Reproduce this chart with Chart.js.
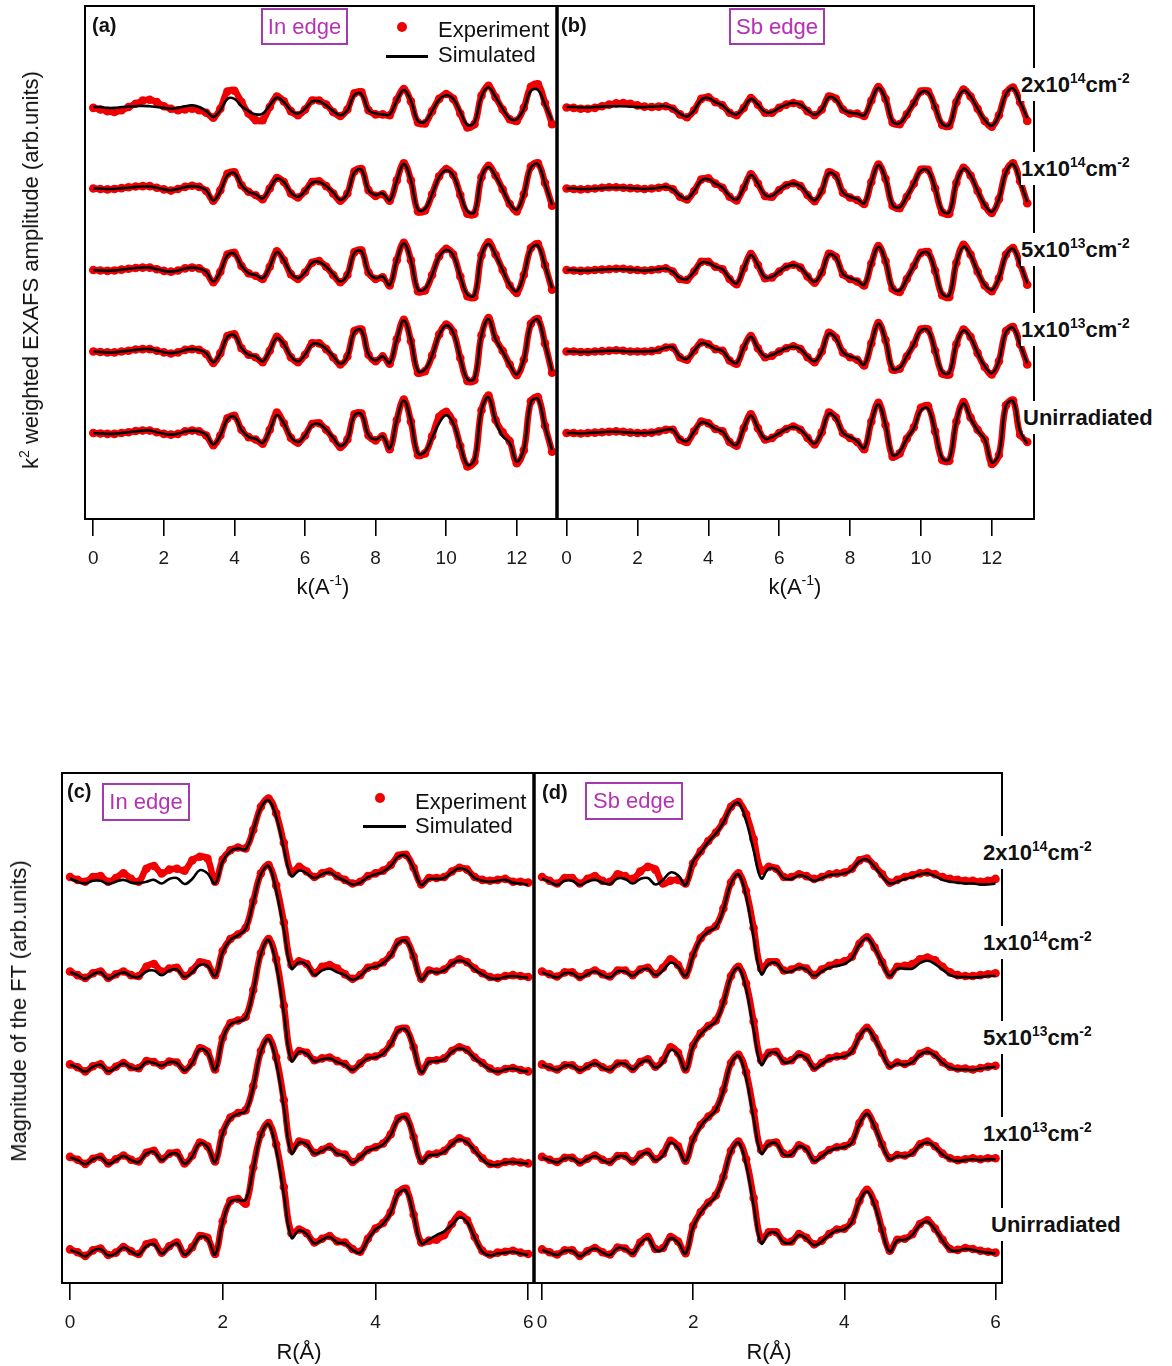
<!DOCTYPE html>
<html>
<head>
<meta charset="utf-8">
<script src="https://cdn.jsdelivr.net/npm/chart.js@4.4.1/dist/chart.umd.min.js"></script>
<style>
  body { margin: 0; background: #fff; width: 1172px; height: 1366px; position: relative; overflow: hidden;
         font-family: "Liberation Sans", Arial, sans-serif; color: #111; }
  canvas { position: absolute; left: 0; top: 0; }
  .t { position: absolute; white-space: nowrap; line-height: 1; }
  .pl { font-weight: bold; font-size: 20px; }
  .edge { position: absolute; box-sizing: border-box; border: 2px solid #a53ab0; color: #b532b5;
          font-size: 22px; display: flex; align-items: center; justify-content: center; background: #fff; }
  .leg { font-size: 22px; }
  .dot { position: absolute; width: 10px; height: 10px; border-radius: 50%; background: #f00000; }
  .ln { position: absolute; height: 3px; background: #000; }
  .smp { position: absolute; white-space: nowrap; font-weight: bold; font-size: 22px; line-height: 1;
         background: #fff; padding: 6px 0 5px 0; }
  .smp .s { font-size: 14px; position: relative; top: -9px; }
  .xt { position: absolute; font-size: 22px; line-height: 1; transform: translateX(-50%); white-space: nowrap; }
  .xt .s { font-size: 14px; position: relative; top: -9px; }
  .yt { position: absolute; font-size: 22px; line-height: 1; white-space: nowrap;
        transform: translate(-50%, -50%) rotate(-90deg); }
  .yt .s { font-size: 14px; position: relative; top: -9px; }
</style>
</head>
<body>
<canvas id="pa" width="1172" height="1366"></canvas>
<canvas id="pb" width="1172" height="1366"></canvas>
<canvas id="pc" width="1172" height="1366"></canvas>
<canvas id="pd" width="1172" height="1366"></canvas>

<div class="yt" style="left:31px;top:270px;">k<span class="s">2</span> weighted EXAFS amplitude (arb.units)</div>
<div class="yt" style="left:19px;top:1011px;">Magnitude of the FT (arb.units)</div>

<div class="t pl" style="left:92px;top:15px;">(a)</div>
<div class="edge" style="left:261px;top:8px;width:87px;height:37px;">In edge</div>
<div class="dot" style="left:397px;top:22px;"></div>
<div class="t leg" style="left:438px;top:19px;">Experiment</div>
<div class="ln" style="left:386px;top:55px;width:42px;"></div>
<div class="t leg" style="left:438px;top:44px;">Simulated</div>
<div class="t pl" style="left:561px;top:15px;">(b)</div>
<div class="edge" style="left:729px;top:8px;width:96px;height:37px;">Sb edge</div>

<div class="t pl" style="left:67px;top:781px;">(c)</div>
<div class="edge" style="left:102px;top:783px;width:88px;height:38px;">In edge</div>
<div class="dot" style="left:375px;top:793px;"></div>
<div class="t leg" style="left:415px;top:791px;">Experiment</div>
<div class="ln" style="left:363px;top:825px;width:43px;"></div>
<div class="t leg" style="left:415px;top:815px;">Simulated</div>
<div class="t pl" style="left:542px;top:782px;">(d)</div>
<div class="edge" style="left:585px;top:782px;width:98px;height:38px;">Sb edge</div>

<div class="xt" style="left:323px;top:576px;">k(A<span class="s">-1</span>)</div>
<div class="xt" style="left:795px;top:576px;">k(A<span class="s">-1</span>)</div>
<div class="xt" style="left:299px;top:1341px;">R(Å)</div>
<div class="xt" style="left:769px;top:1341px;">R(Å)</div>

<div id="labels"></div>

<script>
// sample names, top trace first
const samples = [["2x10", "14", "cm", "-2"], ["1x10", "14", "cm", "-2"], ["5x10", "13", "cm", "-2"], ["1x10", "13", "cm", "-2"], ["Unirradiated"]];
const traceOffsets = [40, 30, 20, 10, 0];

const kGrid = [0,0.2,0.4,0.6,0.8,1,1.2,1.4,1.6,1.8,2,2.2,2.4,2.6,2.8,3,3.2,3.4,3.6,3.8,4,4.2,4.4,4.6,4.8,5,5.2,5.4,5.6,5.8,6,6.2,6.4,6.6,6.8,7,7.2,7.4,7.6,7.8,8,8.2,8.4,8.6,8.8,9,9.2,9.4,9.6,9.8,10,10.2,10.4,10.6,10.8,11,11.2,11.4,11.6,11.8,12,12.2,12.4,12.6,12.8,13];
const rGrid = [0,0.1,0.2,0.3,0.4,0.5,0.6,0.7,0.8,0.9,1,1.1,1.2,1.3,1.4,1.5,1.6,1.7,1.8,1.9,2,2.1,2.2,2.3,2.4,2.5,2.6,2.7,2.8,2.9,3,3.1,3.2,3.3,3.4,3.5,3.6,3.7,3.8,3.9,4,4.1,4.2,4.3,4.4,4.5,4.6,4.7,4.8,4.9,5,5.1,5.2,5.3,5.4,5.5,5.6,5.7,5.8,5.9,6];
const kTicks = [0, 2, 4, 6, 8, 10, 12];
const rTicks = [0, 2, 4, 6];

// (a) In edge, k-space
const aSim2e14 = [0.0,0.0,-0.1,-0.1,0.0,0.05,0.1,0.15,0.1,0.0,-0.1,-0.2,-0.1,0.1,0.2,0.0,-0.5,-1.2,-0.4,1.0,1.0,0.1,-0.5,-0.9,-0.8,0.2,1.15,0.6,-0.4,-0.8,-0.2,0.7,0.7,0.2,-0.5,-1.0,-0.4,1.5,1.6,-0.4,-0.8,-0.9,-0.9,0.8,2.1,0.8,-1.7,-1.8,-0.5,0.9,1.45,1.0,-0.6,-2.2,-1.9,1.3,2.4,1.2,-0.2,-1.4,-1.5,-0.2,2.0,2.1,0.3,-1.65];
const aExp2e14 = [-0.1,-0.3,-0.5,-0.6,-0.4,0.0,0.4,0.8,0.9,0.6,0.1,-0.2,-0.4,-0.3,-0.2,-0.4,-0.7,-1.3,-0.2,1.9,2.0,0.6,-0.8,-1.6,-1.6,0.0,1.3,0.7,-0.5,-1.0,-0.3,0.8,0.8,0.3,-0.6,-1.1,-0.3,1.7,1.8,-0.4,-0.9,-0.9,-1.0,0.9,2.2,0.7,-1.9,-2.0,-0.5,1.0,1.6,1.0,-0.8,-2.5,-2.1,1.4,2.6,1.2,-0.3,-1.5,-1.7,-0.1,2.5,2.8,0.5,-2.1];
const aSim1e14 = [0.0,0.0,-0.05,-0.05,0.05,0.1,0.2,0.25,0.25,0.1,-0.1,-0.2,-0.05,0.2,0.3,0.2,-0.2,-1.45,-0.3,1.6,1.9,0.4,-0.4,-0.7,-1.2,0.0,1.2,0.8,-0.5,-1.0,-0.3,0.7,0.8,0.3,-0.5,-1.4,-0.6,2.0,2.3,-0.2,-0.8,-0.6,-1.45,1.0,3.0,1.0,-2.6,-2.5,-0.7,1.4,2.25,1.6,-0.7,-2.8,-2.9,1.4,2.65,1.5,-0.1,-1.8,-2.6,-0.7,2.6,3.0,0.6,-2.0];
const aExp1e14 = [0.0,-0.05,-0.1,-0.05,0.05,0.15,0.25,0.3,0.3,0.1,-0.1,-0.25,-0.05,0.2,0.35,0.2,-0.3,-1.5,-0.2,1.8,2.0,0.4,-0.4,-0.8,-1.3,0.0,1.3,0.8,-0.6,-1.1,-0.3,0.8,0.9,0.3,-0.6,-1.5,-0.6,2.1,2.4,-0.2,-0.9,-0.7,-1.5,1.0,3.1,1.0,-2.8,-2.7,-0.7,1.5,2.4,1.7,-0.8,-3.1,-3.1,1.4,2.8,1.6,-0.1,-1.9,-2.8,-0.7,2.7,3.1,0.7,-2.1];
const aSim5e13 = [0.0,-0.05,-0.1,-0.05,0.05,0.15,0.25,0.3,0.3,0.1,-0.1,-0.2,-0.05,0.2,0.3,0.2,-0.2,-1.4,-0.2,1.8,2.0,0.5,-0.4,-0.6,-1.0,0.4,2.2,1.2,-0.4,-1.0,-0.3,0.9,1.0,0.4,-0.5,-1.4,-0.6,2.1,2.3,-0.3,-1.0,-0.8,-1.85,1.2,3.25,1.2,-2.4,-2.3,-0.6,1.6,2.45,1.8,-0.8,-3.0,-3.1,1.8,3.2,1.8,0.0,-1.8,-2.6,-0.6,2.6,3.0,0.5,-2.25];
const aExp5e13 = [0.0,-0.05,-0.1,-0.05,0.05,0.15,0.25,0.3,0.3,0.1,-0.1,-0.2,-0.05,0.2,0.3,0.2,-0.3,-1.5,-0.2,1.9,2.1,0.5,-0.4,-0.7,-1.1,0.4,2.3,1.2,-0.5,-1.1,-0.3,0.9,1.1,0.4,-0.6,-1.5,-0.6,2.2,2.4,-0.3,-1.1,-0.9,-1.9,1.2,3.35,1.2,-2.6,-2.5,-0.6,1.7,2.6,1.9,-0.8,-3.2,-3.3,1.8,3.4,1.9,0.0,-1.9,-2.8,-0.6,2.7,3.2,0.6,-2.4];
const aSim1e13 = [0.0,-0.05,-0.1,-0.1,0.0,0.1,0.2,0.3,0.3,0.1,-0.1,-0.2,-0.1,0.2,0.3,0.2,-0.2,-1.3,-0.2,1.8,2.0,0.4,-0.4,-0.6,-1.2,0.1,1.65,0.9,-0.6,-1.2,-0.4,0.9,0.9,0.3,-0.6,-1.5,-0.6,2.4,2.6,-0.4,-1.1,-0.6,-1.4,1.5,3.8,1.4,-2.4,-2.2,-0.5,2.0,3.2,2.3,-0.8,-3.4,-3.3,2.0,4.0,1.5,0.0,-1.6,-2.8,-1.0,3.3,3.9,0.9,-2.4];
const aExp1e13 = [0.0,-0.05,-0.1,-0.1,0.0,0.1,0.25,0.3,0.3,0.1,-0.1,-0.25,-0.1,0.2,0.3,0.2,-0.3,-1.4,-0.2,1.9,2.1,0.4,-0.4,-0.7,-1.3,0.1,1.8,0.9,-0.7,-1.3,-0.4,1.0,1.0,0.3,-0.7,-1.6,-0.6,2.5,2.7,-0.4,-1.2,-0.6,-1.5,1.5,3.9,1.3,-2.6,-2.4,-0.5,2.1,3.3,2.4,-0.8,-3.6,-3.5,2.0,4.1,1.6,0.1,-1.6,-2.9,-1.0,3.4,4.0,1.0,-2.6];
const aSimUn = [0.0,-0.05,-0.1,-0.1,0.0,0.1,0.2,0.3,0.3,0.1,-0.1,-0.2,-0.1,0.2,0.3,0.2,-0.2,-1.4,-0.3,1.7,2.0,0.4,-0.5,-0.7,-1.2,0.3,2.2,1.2,-0.5,-1.1,-0.3,1.0,1.1,0.4,-0.6,-1.6,-0.8,2.2,2.3,-0.3,-0.8,-0.4,-1.9,1.6,4.0,1.5,-2.5,-2.3,-0.6,1.2,2.2,1.2,-1.5,-3.9,-3.3,2.8,4.4,1.5,-0.4,-1.2,-3.5,-2.0,3.8,4.2,0.8,-2.1];
const aExpUn = [0.0,-0.05,-0.1,-0.1,0.0,0.1,0.25,0.3,0.3,0.1,-0.1,-0.2,-0.1,0.2,0.3,0.2,-0.3,-1.5,-0.3,1.8,2.1,0.4,-0.5,-0.8,-1.3,0.4,2.5,1.2,-0.6,-1.2,-0.3,1.1,1.2,0.4,-0.7,-1.7,-0.8,2.3,2.4,-0.3,-0.9,-0.4,-2.0,1.6,4.1,1.4,-2.7,-2.5,-0.4,2.0,2.6,1.4,-1.6,-4.1,-3.5,2.8,4.6,1.6,0.1,-1.0,-3.7,-2.1,3.9,4.4,0.9,-2.3];

// (b) Sb edge, k-space
const bSim2e14 = [0.0,0.0,-0.05,-0.05,0.0,0.05,0.1,0.1,0.1,0.05,0.0,0.0,0.05,0.1,0.1,-0.2,-0.8,-1.15,-0.4,0.9,1.1,0.6,0.2,-0.6,-0.9,-0.1,1.0,0.3,-0.6,-0.6,-0.1,0.3,0.5,0.3,-0.4,-0.95,-0.3,1.2,0.9,-0.3,-0.7,-0.8,-1.0,0.8,2.35,1.0,-1.8,-2.0,-0.9,0.5,1.8,1.8,0.0,-2.1,-2.2,0.6,2.05,1.3,-0.2,-1.6,-2.3,-1.0,1.6,2.3,0.6,-1.35];
const bExp2e14 = [-0.05,-0.1,-0.2,-0.2,-0.1,0.1,0.3,0.45,0.5,0.4,0.2,0.05,0.0,0.05,0.1,-0.2,-0.9,-1.25,-0.4,1.0,1.2,0.6,0.2,-0.7,-1.0,-0.1,1.1,0.3,-0.7,-0.7,-0.1,0.3,0.5,0.3,-0.5,-1.0,-0.3,1.3,1.0,-0.3,-0.8,-0.8,-1.1,0.8,2.45,1.0,-1.9,-2.1,-0.9,0.5,1.9,1.9,0.0,-2.2,-2.3,0.6,2.15,1.3,-0.2,-1.7,-2.4,-1.0,1.7,2.4,0.6,-1.7];
const bSim1e14 = [0.0,0.0,-0.05,-0.05,0.0,0.05,0.1,0.1,0.1,0.05,0.0,-0.05,0.0,0.1,0.2,-0.1,-0.9,-1.25,-0.3,1.0,1.15,0.6,0.1,-0.9,-1.35,0.1,1.65,0.6,-0.8,-0.9,-0.2,0.4,0.6,0.3,-0.7,-1.45,-0.3,1.9,1.5,-0.5,-1.0,-1.3,-1.8,0.8,2.85,1.2,-2.0,-2.3,-1.0,0.6,2.2,2.2,0.0,-2.7,-2.9,0.7,2.45,1.6,-0.3,-2.0,-2.85,-1.3,2.0,3.0,0.8,-1.65];
const bExp1e14 = [0.0,-0.05,-0.1,-0.05,0.0,0.1,0.15,0.15,0.1,0.05,0.0,-0.05,0.0,0.1,0.2,-0.1,-1.0,-1.35,-0.3,1.1,1.25,0.6,0.1,-1.0,-1.45,0.1,1.75,0.6,-0.9,-1.0,-0.2,0.4,0.65,0.3,-0.8,-1.55,-0.3,2.0,1.6,-0.5,-1.1,-1.4,-1.9,0.8,2.95,1.2,-2.1,-2.4,-1.0,0.6,2.3,2.3,0.0,-2.9,-3.1,0.7,2.55,1.6,-0.3,-2.1,-3.0,-1.3,2.1,3.1,0.9,-1.8];
const bSim5e13 = [0.0,0.0,-0.05,-0.05,0.0,0.05,0.1,0.1,0.1,0.05,0.0,-0.05,0.0,0.1,0.2,-0.2,-1.0,-1.1,-0.2,0.9,0.9,0.4,0.1,-1.0,-1.65,0.2,1.85,0.6,-0.9,-0.8,-0.2,0.4,0.6,0.3,-0.7,-1.45,-0.3,1.9,1.5,-0.5,-1.0,-1.3,-1.8,0.8,2.85,1.1,-2.2,-2.5,-1.1,0.5,2.0,2.1,-0.1,-2.9,-3.1,0.9,2.85,1.8,-0.2,-1.8,-2.45,-1.0,1.8,2.6,0.7,-1.65];
const bExp5e13 = [0.0,-0.05,-0.1,-0.05,0.0,0.05,0.1,0.15,0.15,0.05,0.0,-0.05,0.0,0.1,0.2,-0.2,-1.1,-1.2,-0.2,1.0,1.0,0.4,0.1,-1.1,-1.75,0.2,1.95,0.6,-1.0,-0.9,-0.2,0.4,0.65,0.3,-0.8,-1.55,-0.3,2.0,1.6,-0.5,-1.1,-1.4,-1.9,0.8,2.95,1.1,-2.3,-2.7,-1.1,0.5,2.1,2.2,-0.1,-3.1,-3.3,0.9,3.1,1.9,-0.2,-1.9,-2.6,-1.0,1.9,2.7,0.7,-1.8];
const bSim1e13 = [0.0,0.0,-0.05,-0.05,0.0,0.05,0.1,0.1,0.05,0.0,0.0,0.0,0.05,0.2,0.5,0.5,-0.6,-0.9,0.1,1.0,0.8,0.3,0.1,-1.0,-1.4,0.5,1.8,0.4,-0.6,-0.4,0.0,0.4,0.6,0.3,-0.6,-1.2,0.0,2.2,1.6,-0.1,-0.6,-0.9,-1.6,1.0,3.4,1.4,-2.1,-2.0,-0.6,0.9,2.6,2.6,0.1,-2.5,-2.6,0.9,2.6,1.7,-0.2,-1.8,-2.65,-1.2,2.4,2.9,0.8,-1.45];
const bExp1e13 = [0.0,0.0,-0.05,-0.05,0.0,0.05,0.1,0.15,0.1,0.0,0.0,0.0,0.05,0.2,0.5,0.5,-0.7,-1.0,0.1,1.1,0.9,0.3,0.1,-1.1,-1.5,0.5,1.9,0.4,-0.7,-0.5,0.0,0.4,0.65,0.3,-0.7,-1.3,0.0,2.3,1.7,-0.1,-0.7,-1.0,-1.7,1.0,3.5,1.4,-2.2,-2.1,-0.6,0.9,2.7,2.7,0.1,-2.7,-2.8,0.9,2.7,1.8,-0.2,-1.9,-2.8,-1.2,2.5,3.0,0.9,-1.6];
const bSimUn = [0.0,0.0,-0.05,0.0,0.05,0.1,0.15,0.15,0.1,0.05,0.0,0.0,0.05,0.2,0.4,0.4,-0.7,-1.0,0.2,1.3,1.1,0.5,0.2,-1.0,-1.45,0.6,2.15,0.6,-0.7,-0.5,0.0,0.5,0.75,0.4,-0.5,-1.3,0.1,2.35,1.8,0.0,-0.5,-1.0,-1.85,1.4,3.5,1.0,-2.7,-2.3,-0.7,0.6,2.8,3.0,0.2,-3.1,-3.2,1.4,3.6,1.8,0.3,-0.8,-3.6,-2.6,3.4,3.9,0.2,-1.3];
const bExpUn = [0.0,0.0,-0.05,0.0,0.05,0.1,0.15,0.2,0.15,0.05,0.0,0.0,0.05,0.2,0.4,0.4,-0.8,-1.1,0.2,1.4,1.2,0.5,0.2,-1.1,-1.55,0.6,2.3,0.6,-0.8,-0.6,0.0,0.5,0.8,0.4,-0.6,-1.4,0.1,2.5,1.9,0.0,-0.6,-1.1,-2.0,1.4,3.7,1.0,-2.9,-2.5,-0.7,0.7,3.1,3.3,0.2,-3.3,-3.4,1.4,3.8,1.9,0.4,-0.8,-3.8,-2.7,3.4,4.0,-0.2,-1.1];

// (c) In edge, R-space
const cSim2e14 = [0.35,0.0,-0.2,0.1,0.1,-0.25,0.0,0.2,-0.1,-0.15,0.0,0.2,-0.2,0.3,0.4,-0.25,0.3,1.25,0.9,-0.2,2.2,3.3,3.6,3.5,5.6,8.0,8.8,7.0,3.6,0.6,1.2,0.9,0.4,0.8,1.0,0.5,0.1,-0.3,-0.1,0.5,0.8,1.1,1.7,2.7,2.8,1.4,-0.35,0.3,0.3,0.4,1.0,1.45,1.2,0.4,0.1,0.0,0.1,0.2,-0.1,-0.2,-0.35];
const cExp2e14 = [0.5,0.2,0.0,0.5,0.6,0.0,0.4,0.9,0.3,0.0,1.4,1.7,0.9,1.3,1.4,1.2,2.3,2.7,2.5,0.0,2.4,3.4,3.7,3.6,5.6,8.1,9.0,7.4,4.2,1.0,1.6,1.1,0.5,0.9,1.1,0.6,0.2,-0.2,0.0,0.6,0.9,1.2,1.8,2.8,2.9,1.5,-0.3,0.4,0.4,0.5,1.1,1.5,1.3,0.5,0.2,0.1,0.2,0.3,0.0,0.0,-0.1];
const cSim1e14 = [0.2,-0.1,-0.5,0.0,0.2,-0.5,-0.1,0.2,-0.2,-0.3,0.3,0.4,-0.1,0.4,0.5,-0.3,0.2,1.0,0.9,-0.2,2.4,3.7,4.2,4.9,7.8,10.8,11.7,9.0,4.8,0.6,1.3,1.0,-0.1,0.4,0.6,0.2,-0.1,-0.6,-0.2,0.6,0.8,1.2,2.0,3.4,3.6,1.8,-0.6,0.3,0.2,0.4,1.1,1.5,1.2,0.5,0.0,-0.4,-0.5,-0.3,-0.2,-0.3,-0.4];
const cExp1e14 = [0.3,-0.1,-0.4,0.1,0.3,-0.4,0.0,0.3,-0.1,-0.2,0.8,1.1,0.3,0.6,0.7,-0.2,0.4,1.3,1.1,-0.1,2.5,3.8,4.3,5.0,7.9,10.9,11.8,9.6,5.6,1.0,1.4,1.1,0.1,0.8,1.0,0.6,0.0,-0.5,-0.1,0.7,0.9,1.3,2.1,3.5,3.7,1.9,-0.5,0.4,0.3,0.5,1.2,1.6,1.3,0.6,0.1,-0.3,-0.4,-0.2,-0.1,-0.2,-0.3];
const cSim5e13 = [0.2,-0.1,-0.55,0.0,0.2,-0.5,-0.1,0.35,-0.1,-0.2,0.5,0.4,0.1,0.5,0.4,-0.4,0.4,1.9,1.5,-0.35,3.0,4.6,4.9,5.3,8.2,12.2,13.7,11.0,5.8,0.6,1.6,1.4,0.6,0.8,0.9,0.5,0.2,-0.35,0.3,0.9,1.0,1.4,2.4,3.9,4.0,2.0,-0.6,0.5,0.6,0.8,1.6,2.0,1.7,0.9,0.3,-0.3,-0.55,-0.3,-0.2,-0.4,-0.55];
const cExp5e13 = [0.25,-0.05,-0.5,0.05,0.25,-0.45,0.0,0.4,-0.05,-0.15,0.6,0.5,0.15,0.55,0.45,-0.35,0.5,2.0,1.6,-0.3,3.1,4.7,5.0,5.4,8.3,12.3,13.8,11.6,6.6,1.0,1.7,1.5,0.7,0.9,1.0,0.6,0.3,-0.3,0.35,1.0,1.1,1.5,2.5,4.0,4.1,2.1,-0.5,0.6,0.7,0.9,1.7,2.1,1.8,1.0,0.4,-0.2,-0.5,-0.25,-0.15,-0.35,-0.5];
const cSim1e13 = [0.2,-0.1,-0.55,0.0,0.2,-0.5,-0.1,0.35,-0.1,-0.3,0.6,0.8,-0.1,0.5,0.6,-0.5,0.3,1.7,1.3,-0.3,2.8,4.4,4.9,5.2,7.8,11.6,13.0,10.4,5.6,0.6,1.8,1.6,0.6,0.9,1.25,0.6,0.4,-0.35,0.2,0.9,1.2,1.6,2.6,4.3,4.5,2.3,-0.3,0.4,0.5,0.8,1.6,2.15,1.8,0.9,0.0,-0.6,-0.6,-0.35,-0.3,-0.4,-0.5];
const cExp1e13 = [0.25,-0.05,-0.5,0.05,0.25,-0.45,0.0,0.4,-0.05,-0.25,0.7,0.9,0.0,0.6,0.7,-0.45,0.4,1.8,1.4,-0.25,2.9,4.5,5.0,5.3,7.9,11.7,13.1,11.0,6.4,1.0,1.9,1.7,0.7,1.0,1.35,0.7,0.5,-0.3,0.25,1.0,1.3,1.7,2.7,4.4,4.6,2.4,-0.2,0.5,0.6,0.9,1.7,2.25,1.9,1.0,0.1,-0.5,-0.55,-0.3,-0.25,-0.35,-0.45];
const cSimUn = [0.2,-0.1,-0.5,0.1,0.3,-0.4,-0.2,0.45,0.0,-0.3,0.6,0.8,-0.2,0.5,0.9,-0.3,0.4,1.6,1.4,-0.3,3.2,5.4,5.6,5.6,9.0,12.6,13.8,11.0,6.2,1.5,2.3,1.9,0.9,1.3,1.6,1.0,0.9,0.2,-0.1,1.3,2.4,3.0,4.2,6.3,6.6,3.9,0.9,1.3,1.8,2.2,2.9,3.7,3.2,1.5,0.0,-0.4,-0.2,-0.1,0.0,-0.2,-0.35];
const cExpUn = [0.25,-0.05,-0.45,0.15,0.35,-0.35,-0.1,0.5,0.05,-0.25,0.8,1.0,-0.1,0.6,1.0,-0.25,0.5,1.7,1.5,-0.25,3.3,5.5,5.7,5.2,9.1,12.7,13.9,11.6,7.0,2.0,2.4,2.0,1.0,1.4,1.7,1.1,1.0,0.3,0.0,1.4,2.5,3.1,4.3,6.4,6.8,4.0,1.0,1.2,1.3,1.8,3.0,4.0,3.4,1.6,0.1,-0.3,-0.1,0.0,0.1,-0.1,-0.25];

// (d) Sb edge, R-space
const dSim2e14 = [0.35,0.0,-0.35,0.1,0.1,-0.35,0.0,0.2,-0.1,-0.25,0.35,0.3,-0.2,0.3,0.4,-0.3,0.2,1.0,0.7,-0.35,2.2,3.2,4.3,5.2,6.4,8.0,8.5,6.6,3.4,0.35,1.4,1.3,0.4,0.3,0.7,0.5,0.1,0.4,0.7,0.8,0.9,1.3,2.2,2.4,1.6,0.6,-0.2,0.0,0.3,0.5,0.8,0.9,0.6,0.2,0.0,-0.1,-0.2,-0.2,-0.3,-0.3,-0.2];
const dExp2e14 = [0.5,0.1,-0.2,0.4,0.4,-0.2,0.3,0.6,0.1,0.0,0.8,0.6,0.3,1.1,1.6,1.3,-0.2,0.1,0.2,-0.2,2.0,3.3,4.4,5.3,6.5,8.1,8.6,7.3,4.6,1.2,1.6,1.4,0.5,0.5,0.8,0.6,0.3,0.5,0.8,0.9,1.0,1.4,2.3,2.5,1.7,0.8,-0.1,0.2,0.5,0.7,0.9,1.0,0.8,0.5,0.3,0.2,0.1,0.1,0.0,0.1,0.3];
const dSim1e14 = [0.2,-0.1,-0.35,0.1,0.1,-0.4,0.0,0.3,-0.1,-0.35,0.3,0.3,-0.2,0.4,0.6,-0.1,0.4,1.25,0.8,-0.2,2.0,3.8,4.6,5.1,7.0,9.8,10.8,8.4,4.0,0.0,1.1,1.2,0.3,0.3,0.7,0.5,-0.2,0.3,0.7,0.9,1.1,1.7,3.2,3.9,2.8,1.2,-0.2,0.6,0.6,0.6,1.2,1.45,1.1,0.5,-0.1,-0.3,-0.3,-0.35,-0.3,-0.2,-0.2];
const dExp1e14 = [0.3,0.0,-0.25,0.2,0.2,-0.3,0.1,0.4,0.0,-0.25,0.4,0.4,-0.1,0.5,0.7,0.0,0.7,1.6,1.0,-0.1,2.1,3.9,4.7,5.2,7.1,9.9,10.9,9.0,5.0,0.6,1.3,1.3,0.4,0.5,0.8,0.6,-0.1,0.5,0.9,1.2,1.4,1.9,3.3,4.0,2.9,1.3,-0.1,0.8,0.9,1.1,1.6,1.8,1.5,0.8,0.2,-0.1,-0.2,-0.2,-0.1,0.0,0.1];
const dSim5e13 = [0.2,-0.1,-0.35,0.1,0.1,-0.4,0.0,0.35,-0.1,-0.35,0.3,0.3,-0.3,0.4,0.7,-0.1,0.5,1.8,1.3,-0.35,2.2,3.5,4.3,4.9,6.9,9.7,10.7,8.4,4.0,0.2,1.4,1.5,0.5,0.6,1.25,0.9,-0.2,0.3,0.8,1.0,1.1,1.6,3.2,4.1,3.0,1.4,0.0,0.35,0.2,0.5,1.3,1.6,1.2,0.4,-0.1,-0.3,-0.3,-0.35,-0.2,-0.1,0.0];
const dExp5e13 = [0.25,-0.05,-0.3,0.15,0.15,-0.35,0.05,0.4,-0.05,-0.3,0.35,0.35,-0.25,0.5,0.8,0.0,0.7,2.1,1.5,-0.3,2.3,3.6,4.4,5.0,7.0,9.8,10.8,9.0,4.9,0.7,1.5,1.6,0.6,0.7,1.35,1.0,-0.1,0.4,0.9,1.1,1.2,1.7,3.3,4.2,3.1,1.5,0.1,0.45,0.3,0.6,1.4,1.7,1.3,0.5,0.0,-0.2,-0.2,-0.3,-0.15,0.0,0.1];
const dSim1e13 = [0.2,-0.1,-0.35,0.1,0.1,-0.4,0.0,0.35,-0.1,-0.35,0.3,0.3,-0.3,0.4,0.7,-0.1,0.4,1.8,1.2,-0.2,2.1,3.6,4.5,5.3,7.4,10.3,11.2,8.8,4.4,0.6,1.6,1.7,0.5,0.5,1.4,1.0,-0.2,0.3,0.9,1.2,1.3,1.8,3.8,4.9,3.5,1.5,0.0,0.35,0.3,0.6,1.5,1.8,1.3,0.5,0.0,-0.2,-0.1,0.0,-0.1,0.0,0.0];
const dExp1e13 = [0.25,-0.05,-0.3,0.15,0.15,-0.35,0.05,0.4,-0.05,-0.3,0.35,0.35,-0.25,0.5,0.8,0.0,0.6,2.0,1.4,-0.15,2.2,3.7,4.6,5.4,7.5,10.4,11.3,9.4,5.2,1.0,1.7,1.8,0.6,0.6,1.5,1.1,-0.1,0.4,1.0,1.3,1.4,1.9,3.9,5.0,3.6,1.6,0.1,0.45,0.4,0.7,1.6,1.9,1.4,0.6,0.1,-0.1,0.0,0.1,0.0,0.1,0.1];
const dSimUn = [0.2,-0.1,-0.35,0.1,0.1,-0.5,0.0,0.35,-0.1,-0.35,0.4,0.3,-0.2,0.9,1.45,0.2,0.3,1.45,1.0,-0.2,2.7,4.2,5.2,6.0,8.0,10.8,11.8,9.4,5.0,0.9,2.0,2.0,1.0,1.0,1.8,1.4,0.7,1.1,1.8,2.3,2.4,3.2,5.4,6.5,5.0,2.2,0.0,1.2,1.3,1.8,2.9,3.25,2.4,1.2,0.2,0.1,0.3,0.2,0.0,-0.1,-0.2];
const dExpUn = [0.25,-0.05,-0.3,0.15,0.15,-0.45,0.05,0.4,-0.05,-0.3,0.45,0.35,-0.15,1.0,1.6,0.3,0.4,1.6,1.1,-0.15,2.8,4.3,5.3,6.1,8.1,10.9,11.9,10.0,5.8,1.3,2.1,2.1,1.1,1.1,1.9,1.5,0.8,1.2,1.9,2.4,2.5,3.3,5.5,6.7,5.3,2.4,0.1,1.3,1.4,1.9,3.0,3.4,2.5,1.3,0.3,0.2,0.4,0.3,0.1,0.0,-0.1];

const RED = '#f00000';
const FONT = '"Liberation Sans", Arial, sans-serif';

const boxPlugin = {
  id: 'box',
  afterDatasetsDraw(chart, args, opts) {
    const { ctx, chartArea: a } = chart;
    ctx.save();
    ctx.strokeStyle = '#000';
    ctx.lineWidth = 2;
    ctx.strokeRect(a.left, a.top, a.right - a.left, a.bottom - a.top);
    if (opts.leftWidth) {
      ctx.lineWidth = opts.leftWidth;
      ctx.beginPath();
      ctx.moveTo(a.left, a.top);
      ctx.lineTo(a.left, a.bottom);
      ctx.stroke();
    }
    ctx.restore();
  }
};

function makePanel(id, grid, ticks, exps, sims, xr, yr, area, leftWidth) {
  const datasets = [];
  sims.forEach((vals, t) => {
    datasets.push({
      data: grid.map((x, i) => ({ x: x, y: vals[i] + traceOffsets[t] })),
      showLine: true, borderColor: '#000', borderWidth: 2.6, pointRadius: 0,
      tension: 0.4, order: 0
    });
  });
  // experiment: dense dots read as a thick dotted red band
  exps.forEach((vals, t) => {
    datasets.push({
      data: grid.map((x, i) => ({ x: x, y: vals[i] + traceOffsets[t] })),
      showLine: true, borderColor: RED, borderWidth: 6.5, tension: 0.4,
      pointRadius: 4.3, pointBackgroundColor: RED, pointBorderWidth: 0, order: 1
    });
  });
  new Chart(document.getElementById(id), {
    type: 'scatter',
    data: { datasets },
    options: {
      responsive: false,
      animation: false,
      devicePixelRatio: 1,
      events: [],
      layout: { padding: { left: area[0], right: 1172 - area[1], top: area[2], bottom: 1366 - area[3] - 60 } },
      plugins: { legend: { display: false }, tooltip: { enabled: false }, box: { leftWidth: leftWidth } },
      scales: {
        x: {
          type: 'linear', min: xr[0], max: xr[1],
          afterFit: (s) => { s.height = 60; },
          afterBuildTicks: (s) => { s.ticks = ticks.map(v => ({ value: v })); },
          border: { display: false },
          grid: { drawOnChartArea: false, drawTicks: true, tickLength: 17, color: '#000', lineWidth: 1.6 },
          ticks: { stepSize: 2, includeBounds: false, padding: 11, color: '#1a1a1a', maxRotation: 0, autoSkip: false,
                   font: { family: FONT, size: 19 } }
        },
        y: { display: false, min: yr[0], max: yr[1] }
      }
    },
    plugins: [boxPlugin]
  });
}

makePanel('pa', kGrid, kTicks,
  [aExp2e14, aExp1e14, aExp5e13, aExp1e13, aExpUn], [aSim2e14, aSim1e14, aSim5e13, aSim1e13, aSimUn],
  [-0.235, 13.14], [-10.55, 52.4], [85, 557, 6, 519], 0);
makePanel('pb', kGrid, kTicks,
  [bExp2e14, bExp1e14, bExp5e13, bExp1e13, bExpUn], [bSim2e14, bSim1e14, bSim5e13, bSim1e13, bSimUn],
  [-0.27, 13.19], [-10.55, 52.4], [557, 1034, 6, 519], 3.5);
makePanel('pc', rGrid, rTicks,
  [cExp2e14, cExp1e14, cExp5e13, cExp1e13, cExpUn], [cSim2e14, cSim1e14, cSim5e13, cSim1e13, cSimUn],
  [-0.105, 6.076], [-3.38, 51.75], [62, 534, 773, 1283], 0);
makePanel('pd', rGrid, rTicks,
  [dExp2e14, dExp1e14, dExp5e13, dExp1e13, dExpUn], [dSim2e14, dSim1e14, dSim5e13, dSim1e13, dSimUn],
  [-0.106, 6.086], [-3.38, 51.75], [534, 1002, 773, 1283], 3.5);

// sample labels on the right of (b) and (d)
const topLabelPos = [[1021, 85], [1021, 169], [1021, 250], [1021, 330], [1023, 418]];
const botLabelPos = [[983, 853], [983, 943], [983, 1038], [983, 1134], [991, 1225]];
const holder = document.getElementById('labels');
function addLabel(p, parts) {
  const d = document.createElement('div');
  d.className = 'smp';
  if (parts.length === 1) {
    d.textContent = parts[0];
  } else {
    d.innerHTML = parts[0] + '<span class="s">' + parts[1] + '</span>' + parts[2] + '<span class="s">' + parts[3] + '</span>';
  }
  d.style.left = p[0] + 'px';
  d.style.top = (p[1] - 6 - 11) + 'px';
  holder.appendChild(d);
}
samples.forEach((s, i) => { addLabel(topLabelPos[i], s); addLabel(botLabelPos[i], s); });
</script>
</body>
</html>
